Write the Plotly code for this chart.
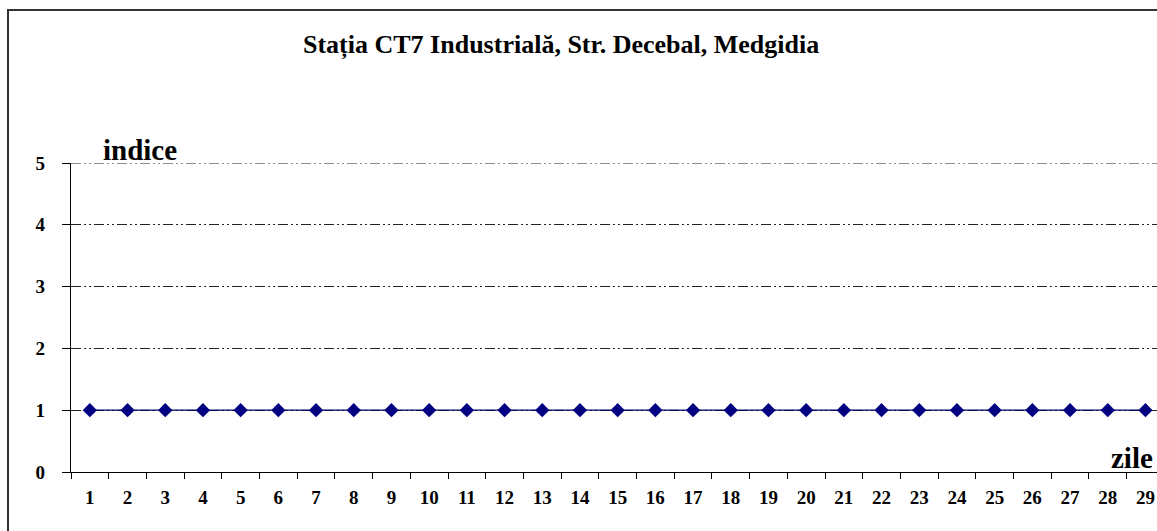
import plotly.graph_objects as go

days = list(range(1, 30))
indice = [1] * 29
y_ticks = [0, 1, 2, 3, 4, 5]
title = "Stația CT7 Industrială, Str. Decebal, Medgidia"

W, H = 1157, 531
L, R, T, B = 71, 0, 163, 59
pw, ph = W - L - R, H - T - B

def px_x(x):
    return (x - L) / pw

def px_y(y):
    return (H - B - y) / ph

font = "Liberation Serif, Times New Roman, serif"
grid_dash = "10px,3px,2px,3px,2px,3px"

fig = go.Figure()
fig.add_trace(go.Scatter(
    x=days, y=indice, mode="lines+markers",
    line=dict(color="#000066", width=1.3),
    marker=dict(symbol="diamond", size=11, color="#000080"),
    showlegend=False, cliponaxis=False,
))

fig.update_layout(
    width=W, height=H,
    margin=dict(l=L, r=R, t=T, b=B),
    paper_bgcolor="white", plot_bgcolor="white",
    font=dict(family=font, size=15, color="black"),
    xaxis=dict(
        range=[0.5, 0.5 + pw / 37.7],
        tickvals=days, ticktext=["<b>%d</b>" % d for d in days],
        ticks="", showgrid=False, zeroline=False,
        showline=True, linecolor="black", linewidth=1.3,
        tickfont=dict(family=font, size=19, color="black"),
        ticklabelstandoff=8,
        minor=dict(tick0=0.5, dtick=1, ticks="outside", ticklen=6,
                   tickcolor="black", tickwidth=1, showgrid=False),
    ),
    yaxis=dict(
        range=[0, 5], tickvals=y_ticks,
        ticktext=["<b>%d</b>" % v for v in y_ticks],
        ticks="outside", ticklen=8, tickcolor="black", tickwidth=1,
        showline=True, linecolor="black", linewidth=1.3,
        showgrid=True, gridcolor="#222222", gridwidth=1,
        griddash=grid_dash,
        zeroline=False,
        tickfont=dict(family=font, size=19, color="black"),
        ticklabelstandoff=13,
    ),
    shapes=[
        dict(type="rect", xref="paper", yref="paper",
             x0=px_x(8), x1=px_x(1175), y0=px_y(545), y1=px_y(10),
             line=dict(color="#333333", width=2), fillcolor="rgba(0,0,0,0)",
             layer="below"),
        dict(type="line", xref="paper", yref="y", x0=0, x1=1, y0=y_ticks[-1], y1=y_ticks[-1],
             line=dict(color="#222222", width=1, dash=grid_dash), layer="below"),
    ],
    annotations=[
        dict(text="<b>" + title + "</b>", x=px_x(561), y=px_y(45),
             xref="paper", yref="paper", showarrow=False,
             xanchor="center", yanchor="middle",
             font=dict(family=font, size=26, color="black")),
        dict(text="<b>indice</b>", x=px_x(101), y=px_y(150),
             xref="paper", yref="paper", showarrow=False,
             xanchor="left", yanchor="middle",
             font=dict(family=font, size=29, color="black")),
        dict(text="<b>zile</b>", x=px_x(1155), y=px_y(458),
             xref="paper", yref="paper", showarrow=False,
             xanchor="right", yanchor="middle",
             font=dict(family=font, size=29, color="black")),
    ],
)

fig.write_html("out.html", config={"displayModeBar": False},
               post_script="document.body.style.margin='0';document.body.style.overflow='hidden';")
